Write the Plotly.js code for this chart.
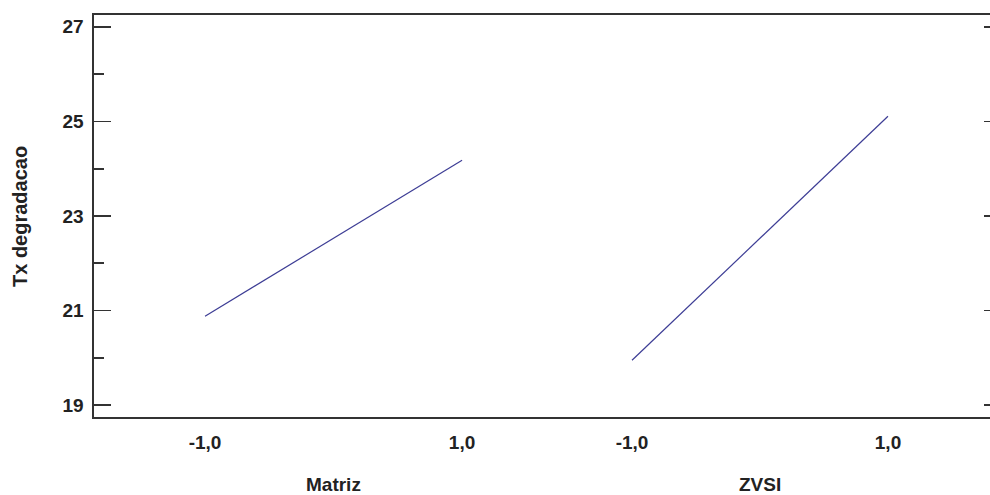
<!DOCTYPE html>
<html><head><meta charset="utf-8">
<script src="https://cdn.plot.ly/plotly-3.0.1.min.js"></script>
<style>html,body{margin:0;padding:0;background:#fff;overflow:hidden}</style>
</head><body>
<div id="chart" style="width:990px;height:495px"></div>
<script>
// Data
var factorNames = ["Matriz", "ZVSI"];
var levels = [-1, 1];
var levelLabels = ["-1,0", "1,0"];
var matrizValues = [20.88, 24.18];
var zvsiValues = [19.95, 25.11];
var yLabel = "Tx degradacao";
var yTicks = [19, 21, 23, 25, 27];

var lineColor = "#3d3d95";
var axisColor = "#333333";
var fontFam = "Liberation Sans, Arial, sans-serif";

var traces = [
  {x: levels, y: matrizValues, xaxis: "x", yaxis: "y", mode: "lines",
   line: {color: lineColor, width: 1.2}, hoverinfo: "x+y", showlegend: false},
  {x: levels, y: zvsiValues, xaxis: "x2", yaxis: "y", mode: "lines",
   line: {color: lineColor, width: 1.2}, hoverinfo: "x+y", showlegend: false},
  // invisible helper so the right-hand tick axis is drawn
  {x: levels, y: zvsiValues, xaxis: "x2", yaxis: "y2", mode: "lines",
   line: {color: "rgba(0,0,0,0)", width: 0}, hoverinfo: "skip", showlegend: false}
];

var split = 0.5056;
var xCommon = {
  showgrid: false, zeroline: false, showline: true, linecolor: axisColor, linewidth: 1.6,
  mirror: true, ticks: "", tickmode: "array", tickvals: levels,
  tickfont: {family: fontFam, size: 19, color: "#222"}, ticklabelstandoff: 8
};

var layout = {
  width: 990, height: 495, autosize: false,
  margin: {l: 94, r: 0, t: 15, b: 78},
  paper_bgcolor: "#fff", plot_bgcolor: "#fff",
  font: {family: fontFam, color: "#222"},
  xaxis: Object.assign({}, xCommon, {domain: [0, split], range: [-1.864, 1.661], anchor: "y"}),
  xaxis2: Object.assign({}, xCommon, {domain: [split, 1], range: [-1.664, 1.797], anchor: "y"}),
  yaxis: {
    range: [18.75, 27.25], showgrid: false, zeroline: false, showline: true, mirror: false,
    linecolor: axisColor, linewidth: 1.6, ticks: "inside", ticklen: 17, tickwidth: 1.6,
    tickcolor: axisColor, tickmode: "array", tickvals: yTicks, ticklabelstandoff: 5,
    tickfont: {family: fontFam, size: 19, color: "#222"},
    minor: {dtick: 1, ticks: "inside", ticklen: 10, tickwidth: 1.6, tickcolor: axisColor, showgrid: false}
  },
  yaxis2: {
    range: [18.75, 27.25], overlaying: "y", side: "right", anchor: "x2",
    showgrid: false, zeroline: false, showline: false, showticklabels: false,
    ticks: "inside", ticklen: 6, tickwidth: 1.6, tickcolor: axisColor,
    tickmode: "array", tickvals: yTicks
  },
  annotations: [
    {text: "<b>" + factorNames[0] + "</b>", xref: "x", x: 0, yref: "paper", y: -0.169,
     yanchor: "middle", xanchor: "center", showarrow: false, font: {family: fontFam, size: 19, color: "#222"}},
    {text: "<b>" + factorNames[1] + "</b>", xref: "x2", x: 0, yref: "paper", y: -0.169,
     yanchor: "middle", xanchor: "center", showarrow: false, font: {family: fontFam, size: 19, color: "#222"}},
    {text: "<b>" + yLabel + "</b>", xref: "paper", x: -0.0826, yref: "paper", y: 0.5,
     textangle: -90, xanchor: "center", yanchor: "middle", showarrow: false,
     font: {family: fontFam, size: 20, color: "#222"}}
  ]
};

// bold tick labels
layout.xaxis.ticktext = levelLabels.map(function(t){return "<b>" + t + "</b>";});
layout.xaxis2.ticktext = layout.xaxis.ticktext;
layout.yaxis.ticktext = yTicks.map(function(t){return "<b>" + t + "</b>";});

Plotly.newPlot("chart", traces, layout, {displayModeBar: false, staticPlot: true});
</script>
</body></html>
